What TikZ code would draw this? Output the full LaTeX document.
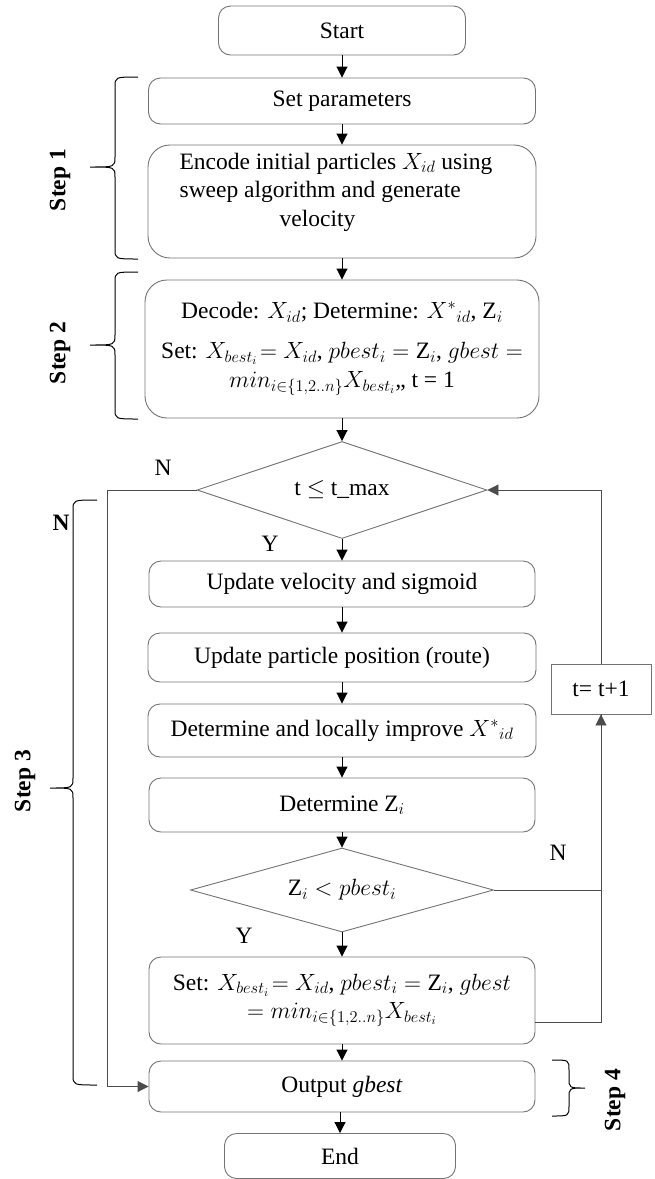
\RequirePackage{fix-cm}
\documentclass[tikz,border=0pt]{standalone}
\usepackage{fontspec}
\setmainfont{Liberation Serif}
\usetikzlibrary{shapes.geometric,arrows.meta,calc}
\tikzset{
  txt/.style={font=\fontsize{23.5}{28.5}\selectfont},
  box/.style={txt, draw=black!55, line width=0.9pt, rounded corners=12pt, align=center, inner sep=0pt},
  bigbox/.style={box, rounded corners=22pt},
  dec/.style={txt, draw=black!55, line width=0.9pt, diamond, inner sep=0pt, align=center},
  plain/.style={txt, draw=black!55, line width=0.9pt, inner sep=0pt},
  arr/.style={line width=0.9pt, -{Triangle[length=11pt,width=11pt]}},
  ln/.style={line width=0.9pt, draw=black!70},
  bracestyle/.style={line width=1pt, draw=black},
  steplbl/.style={font=\fontsize{23.5}{28.5}\selectfont\bfseries, rotate=90},
  lbl/.style={txt}
}
\newcommand{\mybrace}[6]{%
  \draw[bracestyle] (#1,#4) .. controls (#2,#4) .. (#2,{#4+10}) -- (#2,{#5-10})
    .. controls (#2,#5) .. (#3,#5) .. controls (#2,#5) .. (#2,{#5+10})
    -- (#2,{#6-10}) .. controls (#2,#6) .. (#1,#6);}
\begin{document}
\begin{tikzpicture}[x=1pt,y=-1pt]
\useasboundingbox (0,0) rectangle (654,1179);
% main column
\node[box, minimum width=247pt, minimum height=49pt] (start) at (342,30.5) {Start};
\node[box, minimum width=387pt, minimum height=46pt] (params) at (342,101) {Set parameters};
\node[bigbox, minimum width=388pt, minimum height=113pt] (encode) at (342,201.5) {};
\node[txt, align=left, inner sep=0pt] (encodeT) at (336,192)
  {Encode initial particles $X_{id}$ using\\ sweep algorithm and generate\\ \hspace*{100pt}velocity};
\node[bigbox, minimum width=394pt, minimum height=138pt] (decode) at (342,349)
  {Decode: $X_{id}$; Determine: $X^{*}{}_{id}$, $\mathrm{Z}_i$\\[12pt]
   Set: $X_{best_i}\!=X_{id}$, $pbest_i=\mathrm{Z}_i$, $gbest=$\\
   $min_{i\in\{1,2..n\}}X_{best_i}$,, t = 1};
\node[dec, shape aspect=3, minimum width=290pt, minimum height=97pt] (d1) at (342,490) {t $\le$ t\_max};
\node[box, minimum width=386pt, minimum height=46pt] (vel) at (342,584) {Update velocity and sigmoid};
\node[box, minimum width=388pt, minimum height=49pt] (pos) at (342,657.5) {Update particle position (route)};
\node[box, minimum width=388pt, minimum height=53pt] (imp) at (342,730.5) {Determine and locally improve $X^{*}{}_{id}$};
\node[box, minimum width=386pt, minimum height=54pt] (detz) at (342,805) {Determine $\mathrm{Z}_i$};
\node[dec, shape aspect=3.6, minimum width=303pt, minimum height=84pt] (d2) at (342,890) {$\mathrm{Z}_i < pbest_i$};
\node[box, minimum width=386pt, minimum height=87pt] (setb) at (342,1000.5)
  {Set: $X_{best_i}\!=X_{id}$, $pbest_i=\mathrm{Z}_i$, $gbest$\\ $=min_{i\in\{1,2..n\}}X_{best_i}$};
\node[box, minimum width=386pt, minimum height=51pt] (out) at (342,1086.5) {Output \textit{gbest}};
\node[box, minimum width=231pt, minimum height=45pt] (end) at (340,1156) {End};
\node[plain, minimum width=100pt, minimum height=50pt] (tbox) at (601,689) {t= t+1};
% arrows
\draw[arr] (start) -- (params);
\draw[arr] (params) -- (encode);
\draw[arr] (encode) -- (decode);
\draw[arr] (decode) -- (d1);
\draw[arr] (d1) -- (vel);
\draw[arr] (vel) -- (pos);
\draw[arr] (pos) -- (imp);
\draw[arr] (imp) -- (detz);
\draw[arr] (detz) -- (d2);
\draw[arr] (d2) -- (setb);
\draw[arr] (setb) -- (out);
\draw[arr] (out.south -| end.north) -- (end.north);
% right loop
\draw[ln, arr] (d2.east) -| (tbox.south);
\draw[ln] ([yshift=-22pt]setb.east) -| (tbox.south);
\draw[ln, arr] (tbox.north) |- (d1.east);
% left exit
\coordinate (lc) at (107,490);
\draw[ln, arr] (d1.west) -- (lc) |- (out.west);
% labels
\node[lbl] (nTop) at (163,468) {N};
\node[lbl] (yTop) at (270,544) {Y};
\node[lbl] (nRight) at (558,853) {N};
\node[lbl] (yBot) at (244,936) {Y};
\node[font=\fontsize{23.5}{28.5}\selectfont\bfseries] (nLeft) at (61,523) {N};
% braces
\mybrace{138}{115}{90}{77}{167}{259}
\mybrace{138}{115}{90}{272}{345}{419}
\mybrace{97}{73}{50}{500}{788}{1085}
\mybrace{552}{569}{585}{1060}{1088}{1116}
\node[steplbl] (s1) at (60,180) {Step 1};
\node[steplbl] (s2) at (60,353) {Step 2};
\node[steplbl] (s3) at (25,781) {Step 3};
\node[steplbl] (s4) at (615,1100) {Step 4};
\end{tikzpicture}
\end{document}
